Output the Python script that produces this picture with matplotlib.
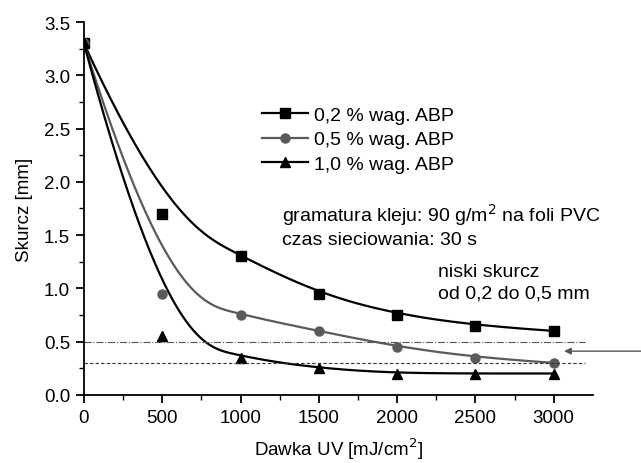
import numpy as np
import matplotlib
matplotlib.use("Agg")
import matplotlib.pyplot as plt

plt.rcParams['font.family'] = ['Liberation Sans', 'DejaVu Sans']

dose = [0, 500, 1000, 1500, 2000, 2500, 3000]
s02 = [3.3, 1.7, 1.3, 0.95, 0.75, 0.65, 0.6]
s05 = [3.3, 0.95, 0.75, 0.6, 0.45, 0.35, 0.3]
s10 = [3.3, 0.55, 0.35, 0.25, 0.2, 0.2, 0.2]
labels = ['0,2 % wag. ABP', '0,5 % wag. ABP', '1,0 % wag. ABP']
low_lim = [0.5, 0.3]


def bspline(xc, yc, k=3, n=400):
    """Clamped uniform B-spline using data points as control points."""
    P = np.column_stack([xc, yc]).astype(float)
    m = len(P)
    inner = np.arange(1, m - k)
    knots = np.concatenate([np.zeros(k + 1), inner, np.full(k + 1, m - k)]).astype(float)
    ts = np.linspace(0, m - k, n)
    out = []
    for t in ts:
        N = np.zeros(len(knots) - 1)
        for i in range(len(knots) - 1):
            if knots[i] <= t < knots[i + 1]:
                N[i] = 1.0
        if t >= knots[-1]:
            idx = np.max(np.where(knots[:-1] < knots[-1])[0])
            N[idx] = 1.0
        for d in range(1, k + 1):
            Nn = np.zeros(len(knots) - 1 - d)
            for i in range(len(Nn)):
                a = 0.0
                den1 = knots[i + d] - knots[i]
                den2 = knots[i + d + 1] - knots[i + 1]
                if den1 > 0:
                    a += (t - knots[i]) / den1 * N[i]
                if den2 > 0:
                    a += (knots[i + d + 1] - t) / den2 * N[i + 1]
                Nn[i] = a
            N = Nn
        out.append(N @ P)
    out = np.array(out)
    return out[:, 0], out[:, 1]


fig = plt.figure(figsize=(6.41, 4.64), dpi=100)
ax = fig.add_axes([0.131, 0.147, 0.794, 0.803])

series = [(s02, 's', 'black'), (s05, 'o', '#5a5a5a'), (s10, '^', 'black')]
for (ys, m, c), lab in zip(series, labels):
    bx, by = bspline(dose, ys)
    ax.plot(bx, by, color=c, lw=1.6)
    ax.plot(dose, ys, ls='none', marker=m, color=c, ms=6.5)
    ax.plot([], [], color=c, lw=1.6, marker=m, ms=6.5, label=lab)

ax.axhline(low_lim[0], xmin=0, xmax=3200 / 3250, color='#555555', lw=0.8, ls='-.')
ax.axhline(low_lim[1], xmin=0, xmax=3200 / 3250, color='#333333', lw=0.8, ls='--', dashes=(3, 2))

ax.annotate('', xy=(0.88, 0.41 / 3.5), xytext=(1.0, 0.41 / 3.5),
            xycoords=('figure fraction', 'axes fraction'),
            textcoords=('figure fraction', 'axes fraction'),
            arrowprops=dict(arrowstyle='-|>', color='#555555', lw=1.0,
                            mutation_scale=10, shrinkA=0, shrinkB=0),
            annotation_clip=False)

ax.set_xlim(0, 3250)
ax.set_ylim(0, 3.5)
ax.set_xticks([0, 500, 1000, 1500, 2000, 2500, 3000])
ax.set_xticks(np.arange(250, 3250, 500), minor=True)
ax.set_yticks(np.arange(0, 3.51, 0.5))
ax.set_yticks(np.arange(0.25, 3.5, 0.5), minor=True)
ax.yaxis.set_major_formatter(matplotlib.ticker.FormatStrFormatter('%.1f'))
for sp in ['top', 'right']:
    ax.spines[sp].set_visible(False)
for sp in ['left', 'bottom']:
    ax.spines[sp].set_linewidth(1.3)
ax.tick_params(which='major', direction='out', length=6, width=1.3, labelsize=13.5, pad=4)
ax.tick_params(which='minor', direction='out', length=3.5, width=1.0)

ax.set_xlabel('Dawka UV [mJ/cm$^2$]', fontsize=13.5, labelpad=7)
ax.set_ylabel('Skurcz [mm]', fontsize=13.5, labelpad=8)

ax.legend(loc='upper left', bbox_to_anchor=(0.33, 0.80), frameon=False,
          fontsize=14, handlelength=2.4, handletextpad=0.3, labelspacing=0.35,
          borderpad=0)

ax.text(0.389, 0.457, 'gramatura kleju: 90 g/m$^2$ na foli PVC\nczas sieciowania: 30 s',
        transform=ax.transAxes, fontsize=14, va='center', ha='left', linespacing=1.35)
ax.text(0.695, 0.301, 'niski skurcz\nod 0,2 do 0,5 mm',
        transform=ax.transAxes, fontsize=14, va='center', ha='left', linespacing=1.35)

fig.savefig('out.png', dpi=100)
